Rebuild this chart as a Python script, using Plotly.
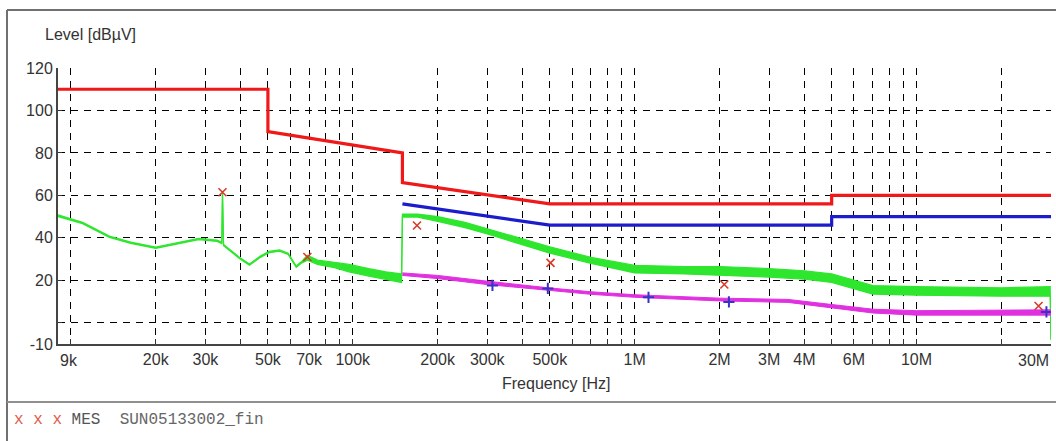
import plotly.graph_objects as go

# ---------------- data ----------------
# Quasi-peak limit (red)
qp_lim_f = [9e3, 50e3, 50e3, 150e3, 150e3, 500e3, 5e6, 5e6, 30e6]
qp_lim_v = [110, 110, 90, 80, 66, 56, 56, 60, 60]
# Average limit (blue)
av_lim_f = [150e3, 500e3, 5e6, 5e6, 30e6]
av_lim_v = [56, 46, 46, 50, 50]

# Peak scan (green) - lower / upper envelope of the trace
green_f = [9000, 11000, 13700, 16300, 20000, 23300, 28400, 33000, 34300, 34500, 34800,
           39600, 43000, 47000, 50500, 55000, 59000, 63000, 66000, 69000, 75000, 86000,
           97000, 114000, 131000, 149000, 150000, 170000, 200000, 250000, 300000, 400000,
           500000, 700000, 1e6, 1.5e6, 2e6, 3e6, 4e6, 5e6, 7e6, 10e6, 20e6, 29.8e6, 30e6]
green_lo = [50, 46.7, 40.2, 37.4, 35, 36.8, 39.2, 38.3, 37.3, 60.8, 36.3,
            30.3, 27.1, 30.8, 33, 33.7, 32.2, 26.1, 28.2, 29.5, 27.5, 26,
            24, 22, 20.5, 19, 49.8, 49.8, 47.8, 44.8, 41.8, 36.8,
            32.8, 28, 23.5, 23, 22.5, 21.5, 20.5, 19, 13.5, 13, 12.5, 12.5, -8]
green_hi = [50.8, 47.3, 40.8, 38, 35.6, 37.4, 39.8, 38.9, 37.9, 61.5, 36.9,
            30.9, 27.7, 31.4, 33.6, 34.3, 32.8, 26.7, 29, 31.8, 29.5, 28.5,
            27.5, 25.5, 24, 23, 51.2, 51.2, 50, 47.3, 44.3, 39.8,
            35.8, 30.8, 27, 26.5, 26.5, 25.5, 24.5, 23, 17.5, 17, 16.5, 17, -8]

# Average scan (magenta) - lower / upper envelope
mag_f = [150000, 200000, 300000, 400000, 500000, 700000, 1e6, 2e6, 3.5e6, 5e6, 7e6,
         10e6, 20e6, 30e6]
mag_lo = [22.3, 20.8, 18.0, 16.4, 15.2, 13.4, 12.0, 10.3, 9.6, 7.0, 4.6, 3.6, 3.6, 3.6]
mag_hi = [23.5, 22.3, 19.6, 17.6, 16.4, 14.6, 13.2, 11.6, 11.0, 8.6, 6.4, 5.7, 5.9, 6.1]

# Final measurements
qp_meas_f = [34500, 69000, 169000, 503000, 2.08e6, 27.1e6]
qp_meas_v = [61.5, 31, 45.8, 28.2, 18.0, 7.9]
av_meas_f = [313000, 492000, 1.12e6, 2.16e6, 28.9e6]
av_meas_v = [17.6, 16.2, 12.0, 9.8, 5.1]

# axis ticks
x_grid = [d * 10 ** k for k in range(4, 8) for d in range(1, 10) if d * 10 ** k <= 30e6]
x_labels = {20e3: "20k", 30e3: "30k", 50e3: "50k", 70e3: "70k", 100e3: "100k",
            200e3: "200k", 300e3: "300k", 500e3: "500k", 1e6: "1M", 2e6: "2M",
            3e6: "3M", 4e6: "4M", 6e6: "6M", 10e6: "10M"}
y_ticks = [-10, 0, 20, 40, 60, 80, 100, 120]
y_text = ["-10", "", "20", "40", "60", "80", "100", "120"]

# ---------------- figure ----------------
GREEN = "#2ee62e"
MAG = "#e030e0"
fig = go.Figure()

fig.add_trace(go.Scatter(x=green_f, y=green_hi, mode="lines",
                         line=dict(color=GREEN, width=1.2), hoverinfo="skip"))
fig.add_trace(go.Scatter(x=green_f, y=green_lo, mode="lines", fill="tonexty",
                         fillcolor=GREEN, line=dict(color=GREEN, width=1.2), hoverinfo="skip"))
fig.add_trace(go.Scatter(x=mag_f, y=mag_hi, mode="lines",
                         line=dict(color=MAG, width=1), hoverinfo="skip"))
fig.add_trace(go.Scatter(x=mag_f, y=mag_lo, mode="lines", fill="tonexty",
                         fillcolor=MAG, line=dict(color=MAG, width=1), hoverinfo="skip"))
fig.add_trace(go.Scatter(x=qp_lim_f, y=qp_lim_v, mode="lines",
                         line=dict(color="#f01818", width=3.2)))
fig.add_trace(go.Scatter(x=av_lim_f, y=av_lim_v, mode="lines",
                         line=dict(color="#1c1ccc", width=3.2)))
fig.add_trace(go.Scatter(x=qp_meas_f, y=qp_meas_v, mode="markers",
                         marker=dict(symbol="x-thin", size=8,
                                     line=dict(color="#d83a2a", width=1.6))))
fig.add_trace(go.Scatter(x=av_meas_f, y=av_meas_v, mode="markers",
                         marker=dict(symbol="cross-thin", size=8,
                                     line=dict(color="#3434c8", width=2))))

GRID = "#000000"
fig.update_xaxes(type="log", range=[3.95424, 7.47712],
                 tickvals=x_grid, ticktext=[x_labels.get(v, "") for v in x_grid],
                 showgrid=True, gridcolor=GRID, gridwidth=1.1, griddash="7px,6px",
                 ticks="inside", ticklen=5, tickcolor="#333", tickwidth=1,
                 showline=True, linecolor="#444", linewidth=2,
                 tickfont=dict(family="Liberation Sans, Arial", size=16, color="#333"),
                 zeroline=False)
fig.update_yaxes(range=[-10, 120], tickvals=y_ticks, ticktext=y_text,
                 showgrid=True, gridcolor=GRID, gridwidth=1.1, griddash="7px,6px",
                 ticks="inside", ticklen=4, tickcolor="#333",
                 showline=True, linecolor="#444", linewidth=2,
                 tickfont=dict(family="Liberation Sans, Arial", size=16, color="#333"),
                 zeroline=False)

# pixel -> paper helpers (plot area: x 58..1051, y 68..344)
def px(x):
    return (x - 58) / 993.0

def py(y):
    return (344 - y) / 276.0

shapes = [
    dict(type="line", xref="paper", yref="paper", x0=px(7), x1=px(1060), y0=py(10), y1=py(10),
         line=dict(color="#707070", width=2)),
    dict(type="line", xref="paper", yref="paper", x0=px(7), x1=px(7), y0=py(10), y1=py(445),
         line=dict(color="#707070", width=2)),
    dict(type="line", xref="paper", yref="paper", x0=px(7), x1=px(1060), y0=py(402), y1=py(402),
         line=dict(color="#909090", width=2)),
]

font = dict(family="Liberation Sans, Arial", size=16, color="#333")
annotations = [
    dict(text="Level [dBµV]", xref="paper", yref="paper", x=px(43), y=py(35),
         xanchor="left", yanchor="middle", showarrow=False, font=font),
    dict(text="Frequency [Hz]", xref="paper", yref="paper", x=px(556), y=py(383),
         xanchor="center", yanchor="middle", showarrow=False, font=font),
    dict(text="9k", xref="x", yref="paper", x=3.95424, y=py(360),
         xanchor="left", yanchor="middle", showarrow=False, font=font),
    dict(text="30M", xref="x", yref="paper", x=7.47712, y=py(360),
         xanchor="right", yanchor="middle", showarrow=False, font=font),
    dict(text="<span style='color:#e05a4a'>x x x</span> MES  "
              "<span style='color:#666'>SUN05133002_fin</span>",
         xref="paper", yref="paper", x=px(12), y=py(420), xanchor="left", yanchor="middle",
         showarrow=False, font=dict(family="Liberation Mono, Courier New, monospace",
                                    size=16, color="#555")),
]

fig.update_layout(width=1056, height=441, margin=dict(l=58, r=5, t=68, b=97),
                  paper_bgcolor="white", plot_bgcolor="white", showlegend=False,
                  shapes=shapes, annotations=annotations)

fig.write_html("out.html", config={"displayModeBar": False},
               post_script="document.body.style.margin='0';document.body.style.overflow='hidden';")
